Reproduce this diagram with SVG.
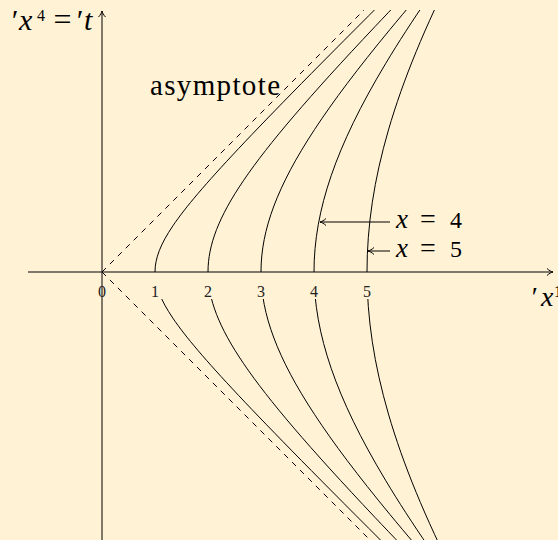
<svg xmlns="http://www.w3.org/2000/svg" width="558" height="540" viewBox="0 0 558 540">
<style>
.ln{fill:none;stroke:#000;stroke-width:1}
.hy{fill:none;stroke:#000;stroke-width:1}
.dash{fill:none;stroke:#000;stroke-width:1;stroke-dasharray:5.6 5.6}
.m{font-family:"Liberation Serif","Times New Roman",serif;font-style:italic;fill:#000}
.r{font-family:"Liberation Serif","Times New Roman",serif;fill:#000}
.num{font-family:"Liberation Serif","Times New Roman",serif;font-size:16px;fill:#222;text-anchor:middle}
</style>
<defs>
<marker id="ar" markerUnits="userSpaceOnUse" markerWidth="10" markerHeight="10" viewBox="-8 -5 10 10" refX="0" refY="0" orient="auto"><path d="M-6,-3.5 C-4,-1.5 -1.5,-0.4 0,0 C-1.5,0.4 -4,1.5 -6,3.5" fill="none" stroke="#000" stroke-width="1"/></marker>
<clipPath id="cu"><rect x="0" y="10" width="558" height="262.5"/></clipPath>
<clipPath id="cl"><rect x="0" y="299" width="558" height="245"/></clipPath>
<path id="hyp" vector-effect="non-scaling-stroke" d="M1,0 C1,0.13333 1.0263,0.26661 1.08107,0.41075 C1.13584,0.55489 1.21902,0.70979 1.33743,0.88811 C1.45584,1.06643 1.6094,1.26804 1.81066,1.50946 C2.01192,1.75088 2.26072,2.03191 2.57746,2.37557 C2.8942,2.71923 3.27862,3.12523 3.7622,3.62686 C4.24578,4.12849 4.82812,4.7253 5.55695,5.46623"/>
</defs>
<rect x="0" y="0" width="558" height="540" fill="#fff2d5"/>
<g id="axes">
<path class="ln" d="M28,272 H553" marker-end="url(#ar)"/>
<path class="ln" d="M102,540 V11" marker-end="url(#ar)"/>
</g>
<g id="asymptotes">
<path class="dash" d="M102,272 L364,10"/>
<path class="dash" d="M102,272 L372,542"/>
</g>
<g id="curves-upper" clip-path="url(#cu)">
<use href="#hyp" class="hy" transform="matrix(53 0 0 -51.96 102 272)"/>
<use href="#hyp" class="hy" transform="matrix(106 0 0 -103.4 102 272)"/>
<use href="#hyp" class="hy" transform="matrix(159 0 0 -160.6 102 272)"/>
<use href="#hyp" class="hy" transform="matrix(212 0 0 -234.5 102 272)"/>
<use href="#hyp" class="hy" transform="matrix(265 0 0 -346 102 272)"/>
</g>
<g id="curves-lower" clip-path="url(#cl)">
<use href="#hyp" class="hy" transform="matrix(53 0 0 51.96 102 272)"/>
<use href="#hyp" class="hy" transform="matrix(106 0 0 103.4 102 272)"/>
<use href="#hyp" class="hy" transform="matrix(159 0 0 160.6 102 272)"/>
<use href="#hyp" class="hy" transform="matrix(212 0 0 234.5 102 272)"/>
<use href="#hyp" class="hy" transform="matrix(265 0 0 346 102 272)"/>
</g>
<g id="connectors">
<path class="ln" d="M390,222 H320" marker-end="url(#ar)"/>
<path class="ln" d="M390,251 H368" marker-end="url(#ar)"/>
</g>
<g id="ticks">
<text class="num" x="102" y="297">0</text>
<text class="num" x="155" y="297">1</text>
<text class="num" x="208" y="297">2</text>
<text class="num" x="261" y="297">3</text>
<text class="num" x="314" y="297">4</text>
<text class="num" x="367" y="297">5</text>
</g>
<g id="label-t">
<text class="m" x="10" y="30" style="font-size:30px">′</text>
<text class="m" x="19" y="30" style="font-size:30px">x</text>
<text class="r" x="37" y="21" style="font-size:16px">4</text>
<text class="r" x="62.5" y="30" text-anchor="middle" style="font-size:32px">=</text>
<text class="m" x="75" y="30" style="font-size:30px">′</text>
<text class="m" x="84" y="30" style="font-size:30px">t</text>
</g>
<g id="label-x1">
<text class="m" x="530" y="306" style="font-size:28px">′</text>
<text class="m" x="541" y="306" style="font-size:28px">x</text>
<text class="r" x="554" y="297" style="font-size:16px">1</text>
</g>
<g id="label-asymptote">
<text class="r" x="150" y="95" style="font-size:29px" textLength="130" lengthAdjust="spacing">asymptote</text>
</g>
<g id="label-x4">
<text class="m" x="396" y="228" style="font-size:27px">x</text>
<text class="r" x="428" y="228" text-anchor="middle" style="font-size:28px">=</text>
<text class="r" x="450" y="228" style="font-size:24px">4</text>
</g>
<g id="label-x5">
<text class="m" x="396" y="257" style="font-size:27px">x</text>
<text class="r" x="428" y="257" text-anchor="middle" style="font-size:28px">=</text>
<text class="r" x="450" y="257" style="font-size:24px">5</text>
</g>
</svg>
